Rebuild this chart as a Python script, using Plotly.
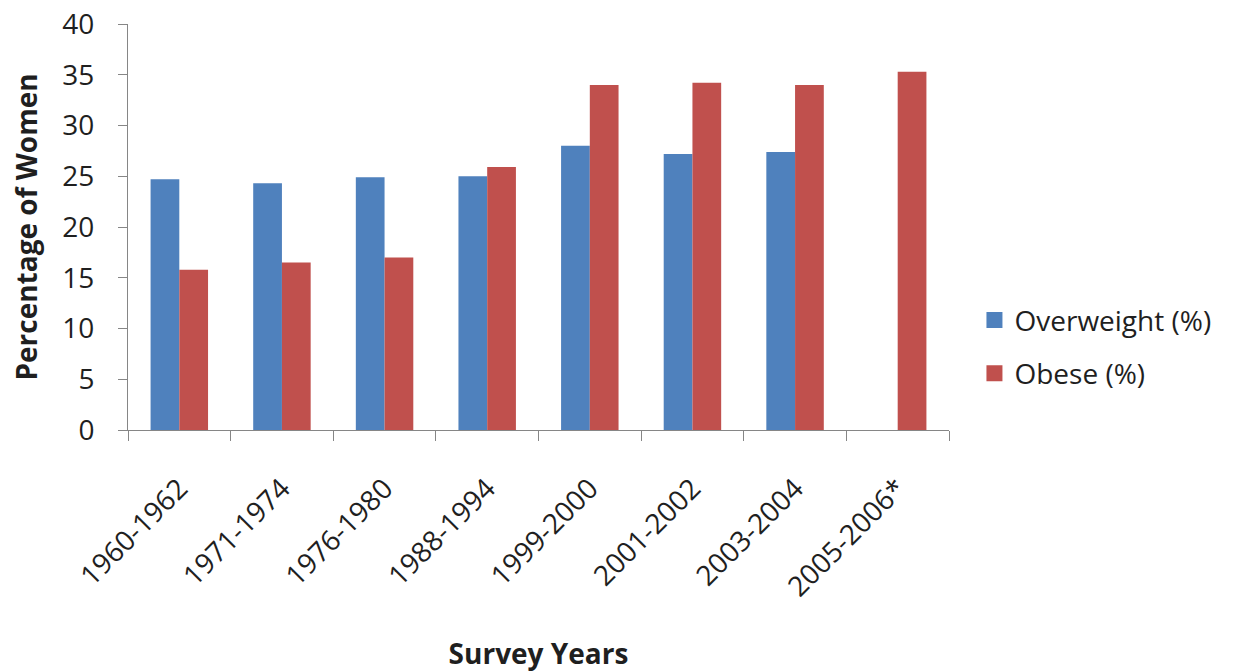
import plotly.graph_objects as go

# Survey periods and prevalence among women (percent)
periods = ["1960-1962", "1971-1974", "1976-1980", "1988-1994",
           "1999-2000", "2001-2002", "2003-2004", "2005-2006*"]
overweight_pct = [24.7, 24.3, 24.9, 25.0, 28.0, 27.2, 27.4, None]
obese_pct = [15.8, 16.5, 17.0, 25.9, 34.0, 34.2, 34.0, 35.3]

series_names = ["Overweight (%)", "Obese (%)"]
series_colors = ["#4F81BD", "#C0504D"]
y_ticks = [0, 5, 10, 15, 20, 25, 30, 35, 40]

FONT = "Open Sans"
TEXT = "#1f1f1f"
AXIS = "#868686"

fig = go.Figure()
for name, vals, color in zip(series_names, [overweight_pct, obese_pct], series_colors):
    fig.add_trace(go.Bar(x=periods, y=vals, name=name, marker_color=color,
                         marker_line_width=0, showlegend=False))
    # legend swatch
    fig.add_trace(go.Scatter(x=[None], y=[None], mode="markers", name=name,
                             legendgroup=name,
                             marker=dict(symbol="square", size=16, color=color)))

fig.update_layout(
    width=1238, height=672,
    margin=dict(l=128, r=289, t=24, b=242, autoexpand=False),
    paper_bgcolor="white", plot_bgcolor="white",
    barmode="group", bargap=0.44, bargroupgap=0,
    font=dict(family=FONT, size=28, color=TEXT),
    legend=dict(x=1.031, xanchor="left", y=0.205, yanchor="middle",
                font=dict(family=FONT, size=28, color=TEXT),
                tracegroupgap=14, itemwidth=30, bgcolor="rgba(0,0,0,0)"),
    xaxis=dict(
        type="category", showline=True, linecolor=AXIS, linewidth=1,
        ticks="outside", tickson="boundaries", ticklen=10, tickcolor=AXIS,
        tickangle=-45, ticklabelstandoff=30, showgrid=False, zeroline=False,
        tickfont=dict(family=FONT, size=28, color=TEXT),
        title=dict(text="<b>Survey Years</b>", standoff=44,
                   font=dict(family=FONT, size=28, color=TEXT)),
    ),
    yaxis=dict(
        range=[0, 40], tickvals=y_ticks, showline=True, linecolor=AXIS,
        linewidth=1, ticks="outside", ticklen=9, tickcolor=AXIS,
        ticklabelstandoff=18, showgrid=False, zeroline=False,
        tickfont=dict(family=FONT, size=28, color=TEXT),
        title=dict(text="<b>Percentage of Women</b>", standoff=16,
                   font=dict(family=FONT, size=28, color=TEXT)),
    ),
)

fig.write_html("out.html")
